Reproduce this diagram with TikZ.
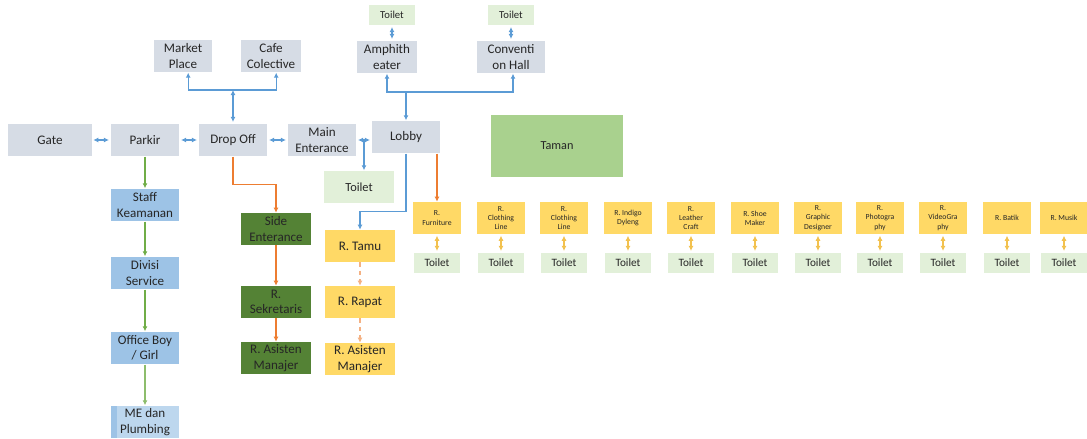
\documentclass[tikz,border=0pt]{standalone}
\usepackage{fontspec}
\setmainfont{Carlito}
\usetikzlibrary{arrows.meta}

%% warna kotak dan garis
\definecolor{abu}{HTML}{D6DCE5}
\definecolor{hijaumuda}{HTML}{E2F0D9}
\definecolor{hijautaman}{HTML}{A9D18E}
\definecolor{biru}{HTML}{9DC3E6}
\definecolor{birumuda}{HTML}{BDD7EE}
\definecolor{hijautua}{HTML}{548235}
\definecolor{kuning}{HTML}{FFD966}
\definecolor{garisbiru}{HTML}{5B9BD5}
\definecolor{garishijau}{HTML}{70AD47}
\definecolor{garisoranye}{HTML}{ED7D31}
\definecolor{gariskuning}{HTML}{F2C14E}

\tikzset{
  kotak/.style={align=center, inner sep=1pt, text=black!85, font=\fontsize{9.3}{11}\selectfont},
  abubox/.style={kotak, fill=abu, minimum width=1.72cm, minimum height=0.82cm},
  toiletbox/.style={kotak, fill=hijaumuda, minimum width=1.75cm, minimum height=0.82cm, font=\fontsize{8.8}{10}\selectfont},
  toiletatas/.style={kotak, fill=hijaumuda, minimum width=1.17cm, minimum height=0.52cm, font=\fontsize{7.6}{9}\selectfont},
  toiletkecil/.style={kotak, fill=hijaumuda, minimum width=1.15cm, minimum height=0.52cm, font=\fontsize{8}{9}\selectfont},
  birubox/.style={kotak, fill=biru, minimum width=1.72cm, minimum height=0.82cm},
  hijaubox/.style={kotak, fill=hijautua, minimum width=1.75cm, minimum height=0.8cm},
  kuningbox/.style={kotak, fill=kuning, minimum width=1.75cm, minimum height=0.8cm},
  ruang/.style={kotak, fill=kuning, minimum width=1.2cm, minimum height=0.8cm, font=\fontsize{5.5}{6.6}\selectfont},
  tip/.style={Latex[length=3.6pt,width=3.6pt]},
  panah/.style={line width=0.9pt, -{Latex[length=3.6pt,width=3.6pt]}},
  duapanah/.style={line width=0.9pt, {Latex[length=3.6pt,width=3.6pt]}-{Latex[length=3.6pt,width=3.6pt]}, shorten <=1pt, shorten >=1pt},
}

\begin{document}
\begin{tikzpicture}[x=0.025cm, y=-0.025cm]
  \useasboundingbox (0,0) rectangle (1087,439);

  %% baris tengah: dari gate sampai lobby
  \node[abubox, minimum width=2.08cm] (gate) at (50,140) {Gate};
  \node[abubox] (parkir) at (145,140) {Parkir};
  \node[abubox] (dropoff) at (233,140) {Drop Off};
  \node[abubox] (mainent) at (322,140) {Main\\Enterance};
  \node[abubox] (lobby) at (406,137) {Lobby};
  \node[toiletbox] (toiletm) at (359,187) {Toilet};
  \node[kotak, fill=hijautaman, minimum width=3.3cm, minimum height=1.55cm, font=\fontsize{8.7}{10}\selectfont] (taman) at (557,146) {Taman};

  %% bagian atas
  \node[abubox, minimum width=1.45cm] (market) at (183,56) {Market\\Place};
  \node[abubox, minimum width=1.52cm] (cafe) at (271,56) {Cafe\\Colective};
  \node[abubox, minimum width=1.5cm] (amphi) at (387,57) {Amphith\\eater};
  \node[abubox] (conv) at (511,57) {Conventi\\on Hall};
  \node[toiletatas] (toiletA) at (392,15) {Toilet};
  \node[toiletatas] (toiletB) at (511,15) {Toilet};
  \coordinate (cabangD) at (233,90);
  \coordinate (cabangL) at (406,92);

  %% kolom kiri (keamanan dan service)
  \node[birubox] (staff) at (145,205) {Staff\\Keamanan};
  \node[birubox] (divisi) at (145,273) {Divisi\\Service};
  \node[birubox] (office) at (145,348) {Office Boy\\/ Girl};
  \node[birubox, fill=birumuda, path picture={\fill[biru] (path picture bounding box.north west) rectangle ([xshift=0.17cm]path picture bounding box.south west);}] (mep) at (145,422) {ME dan\\Plumbing};

  %% kolom hijau tua
  \node[hijaubox] (side) at (276,229) {Side\\Enterance};
  \node[hijaubox] (sekre) at (276,302) {R.\\Sekretaris};
  \node[hijaubox] (asistenA) at (276,358) {R. Asisten\\Manajer};

  %% kolom kuning
  \node[kuningbox] (tamu) at (360,246) {R. Tamu};
  \node[kuningbox] (rapat) at (360,302) {R. Rapat};
  \node[kuningbox] (asistenB) at (360,359) {R. Asisten\\Manajer};

  %% panah biru
  \draw[duapanah, garisbiru] (gate) -- (parkir);
  \draw[duapanah, garisbiru] (parkir) -- (dropoff);
  \draw[duapanah, garisbiru] (dropoff) -- (mainent);
  \draw[duapanah, garisbiru] (mainent.east) -- (mainent.east -| lobby.west);
  \coordinate (cabangT) at (364,140);
  \draw[panah, garisbiru] (cabangT) -- (toiletm.north -| cabangT);
  \draw[duapanah, garisbiru, shorten <=0pt] (cabangD) -- (dropoff.north);
  \draw[panah, garisbiru] (cabangD) -| ([xshift=0.13cm]market.south);
  \draw[panah, garisbiru] (cabangD) -| ([xshift=0.13cm]cafe.south);
  \draw[panah, garisbiru] (cabangL) -- (lobby.north);
  \draw[panah, garisbiru] (cabangL) -| (amphi.south);
  \draw[panah, garisbiru] (cabangL) -| ([xshift=0.05cm]conv.south);
  \draw[duapanah, garisbiru] (toiletA) -- (toiletA |- amphi.north);
  \draw[duapanah, garisbiru] (toiletB) -- (conv);
  \draw[panah, garisbiru] (lobby.south) -- ++(0,58) -| (tamu.north);

  %% panah hijau
  \draw[panah, garishijau] (parkir) -- (staff);
  \draw[panah, garishijau] (staff) -- (divisi);
  \draw[panah, garishijau] (divisi) -- (office);
  \draw[panah, garishijau!80] (office) -- (mep);

  %% panah oranye
  \draw[panah, garisoranye] (dropoff.south) -- ++(0,28) -| (side.north);
  \draw[panah, garisoranye] (side) -- (sekre);
  \draw[panah, garisoranye] (sekre) -- (asistenA);
  \draw[panah, garisoranye!60, dashed] (tamu) -- (rapat);
  \draw[panah, garisoranye!60, dashed] (rapat) -- (asistenB);

  %% deretan ruang workshop dengan toiletnya
  \foreach \x/\nama [count=\i] in {437/{R.\\Furniture}, 501/{R.\\Clothing\\Line}, 564/{R.\\Clothing\\Line},
      628/{R. Indigo\\Dyleng}, 691/{R.\\Leather\\Craft}, 755/{R. Shoe\\Maker}, 818/{R.\\Graphic\\Designer},
      880/{R.\\Photogra\\phy}, 943/{R.\\VideoGra\\phy}, 1007/{R. Batik}, 1064/{R. Musik}}{
    \node[ruang] (r\i) at (\x,218) {\nama};
    \node[toiletkecil] (t\i) at (\x,263) {Toilet};
    \draw[duapanah, gariskuning] (r\i) -- (t\i);
  }
  \draw[panah, garisoranye] (r1.north |- lobby.south) -- (r1.north);
\end{tikzpicture}
\end{document}
